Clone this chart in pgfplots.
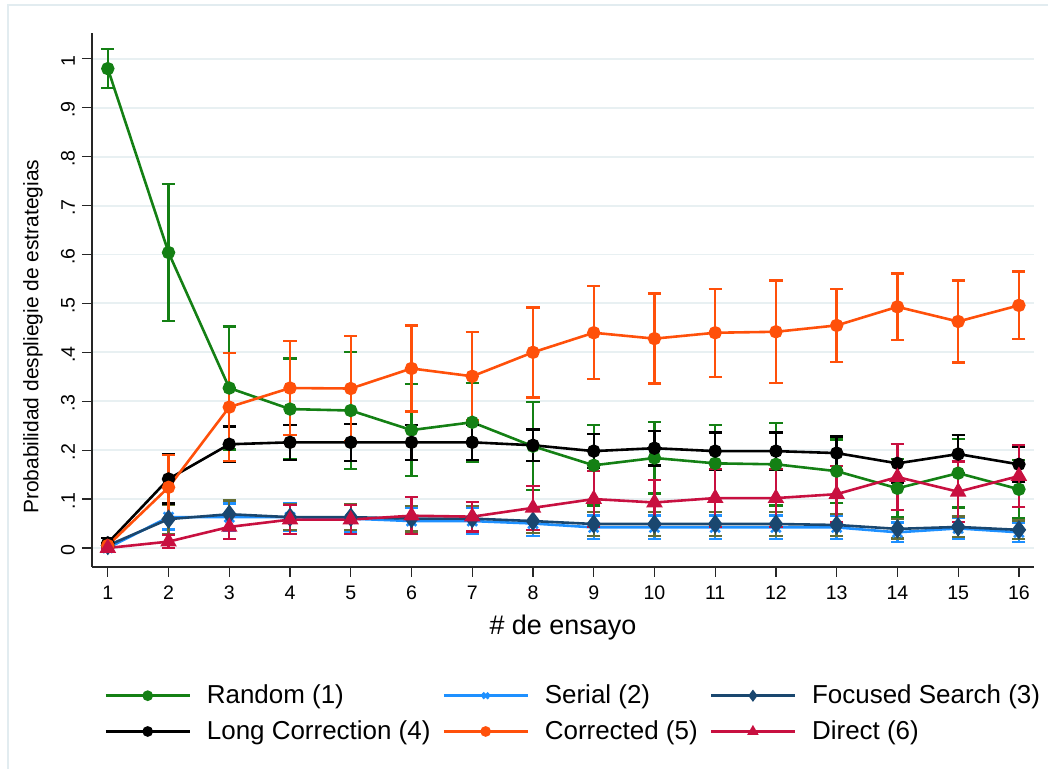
\documentclass[border=0pt]{standalone}
\usepackage{fontspec}
\setmainfont{Liberation Sans}
\usepackage{pgfplots}
\usepackage{pgfplotstable}
\pgfplotsset{compat=1.18}
\definecolor{cRandom}{RGB}{20,128,20}
\definecolor{cSerial}{RGB}{30,144,255}
\definecolor{cFocused}{RGB}{26,71,111}
\definecolor{cFocErr}{RGB}{100,110,55}
\definecolor{cLong}{RGB}{0,0,0}
\definecolor{cCorr}{RGB}{255,80,10}
\definecolor{cDirect}{RGB}{200,16,64}
\definecolor{gridc}{RGB}{232,240,242}
\definecolor{framec}{RGB}{226,236,240}

\pgfplotstableread{
x y e
1 0.980 0.040
2 0.604 0.140
3 0.327 0.126
4 0.284 0.103
5 0.281 0.120
6 0.241 0.094
7 0.257 0.080
8 0.208 0.090
9 0.169 0.082
10 0.184 0.073
11 0.173 0.078
12 0.171 0.084
13 0.157 0.065
14 0.122 0.060
15 0.153 0.070
16 0.120 0.060
}\tRandom

\pgfplotstableread{
x y e
1 0.000 0.005
2 0.063 0.025
3 0.063 0.028
4 0.063 0.028
5 0.060 0.028
6 0.055 0.027
7 0.055 0.027
8 0.050 0.025
9 0.042 0.024
10 0.042 0.024
11 0.042 0.024
12 0.042 0.024
13 0.042 0.024
14 0.032 0.020
15 0.040 0.022
16 0.032 0.020
}\tSerial

\pgfplotstableread{
x y e
1 0.005 0.005
2 0.059 0.030
3 0.069 0.028
4 0.063 0.026
5 0.063 0.026
6 0.060 0.026
7 0.060 0.026
8 0.055 0.025
9 0.049 0.024
10 0.049 0.024
11 0.049 0.024
12 0.049 0.024
13 0.047 0.023
14 0.039 0.020
15 0.043 0.021
16 0.037 0.019
}\tFocused

\pgfplotstableread{
x y e
1 0.010 0.010
2 0.141 0.050
3 0.212 0.036
4 0.216 0.036
5 0.216 0.038
6 0.216 0.036
7 0.216 0.036
8 0.210 0.032
9 0.198 0.035
10 0.204 0.035
11 0.198 0.038
12 0.198 0.038
13 0.194 0.034
14 0.173 0.040
15 0.192 0.039
16 0.171 0.035
}\tLong

\pgfplotstableread{
x y e
1 0.005 0.005
2 0.124 0.066
3 0.288 0.110
4 0.327 0.096
5 0.326 0.107
6 0.367 0.088
7 0.351 0.090
8 0.400 0.092
9 0.440 0.095
10 0.428 0.092
11 0.440 0.090
12 0.442 0.105
13 0.455 0.075
14 0.493 0.068
15 0.463 0.084
16 0.496 0.069
}\tCorr

\pgfplotstableread{
x y e
1 0.000 0.003
2 0.013 0.013
3 0.043 0.025
4 0.058 0.030
5 0.058 0.030
6 0.066 0.038
7 0.064 0.030
8 0.082 0.045
9 0.100 0.057
10 0.093 0.046
11 0.102 0.059
12 0.102 0.059
13 0.110 0.058
14 0.145 0.067
15 0.115 0.062
16 0.147 0.063
}\tDirect

\begin{document}
\begin{tikzpicture}
\begin{axis}[
  name=ax,
  scale only axis,
  width=472pt, height=267.5pt,
  xmin=0.737, xmax=16.25,
  ymin=-0.0388, ymax=1.053,
  axis x line*=bottom, axis y line*=left,
  axis line style={black!85, line width=0.8pt},
  xtick={1,2,3,4,5,6,7,8,9,10,11,12,13,14,15,16},
  ytick={0,0.1,0.2,0.3,0.4,0.5,0.6,0.7,0.8,0.9,1},
  yticklabels={0,.1,.2,.3,.4,.5,.6,.7,.8,.9,1},
  tick align=outside,
  major tick length=5pt,
  tick style={black!85, line width=0.6pt},
  ymajorgrids,
  major grid style={gridc, line width=1pt},
  /pgf/number format/assume math mode=true,
  ticklabel style={font=\fontsize{9.8}{11}\selectfont},
  yticklabel style={rotate=90, anchor=south, xshift=-1pt},
  xticklabel style={yshift=-1pt},
  xlabel={\# de ensayo},
  xlabel style={font=\fontsize{13.5}{16}\selectfont, at={(axis description cs:0.5,-0.127)}, anchor=base},
  ylabel={Probabilidad despliegie de estrategias},
  ylabel style={font=\fontsize{10.5}{12}\selectfont, at={(axis description cs:-0.0625,0.431)}, anchor=center},
  clip=false,
  legend columns=3,
  legend cell align=left,
  legend style={
    at={(axis description cs:0.512,-0.205)}, anchor=north,
    draw=none, fill=none,
    font=\fontsize{13}{15}\selectfont,
    /tikz/every even column/.append style={column sep=4pt},
    row sep=3pt,
  },
  legend image code/.code={%
    \draw[mark repeat=2,mark phase=2,#1,mark size=2pt] plot coordinates {(0pt,0pt) (21pt,0pt) (42pt,0pt)};
    \path (48pt,0pt);},
  every axis plot/.append style={line width=1.3pt},
]
\addplot[cRandom, mark=*, mark size=2.7pt, mark options={solid, fill=cRandom},
  error bars/.cd, y dir=both, y explicit,
  error bar style={line width=1.2pt, cRandom},
  error mark options={rotate=90, mark size=3.3pt, line width=1.2pt, cRandom}]
  table[x=x, y=y, y error=e] {\tRandom};
\addlegendentry{Random (1)}

\addplot[cSerial, mark=x, mark size=3.4pt, mark options={solid},
  error bars/.cd, y dir=both, y explicit,
  error bar style={line width=1.2pt, cSerial},
  error mark options={rotate=90, mark size=3.3pt, line width=1.2pt, cSerial}]
  table[x=x, y=y, y error=e] {\tSerial};
\addlegendentry{Serial (2)}

\addplot[cFocused, mark=diamond*, mark size=3.8pt, mark options={solid, fill=cFocused},
  error bars/.cd, y dir=both, y explicit,
  error bar style={line width=1.2pt, cFocErr},
  error mark options={rotate=90, mark size=3.3pt, line width=1.2pt, cFocErr}]
  table[x=x, y=y, y error=e] {\tFocused};
\addlegendentry{Focused Search (3)}

\addplot[cLong, mark=*, mark size=2.7pt, mark options={solid, fill=cLong},
  error bars/.cd, y dir=both, y explicit,
  error bar style={line width=1.2pt, cLong},
  error mark options={rotate=90, mark size=3.3pt, line width=1.2pt, cLong}]
  table[x=x, y=y, y error=e] {\tLong};
\addlegendentry{Long Correction (4)}

\addplot[cCorr, mark=*, mark size=2.7pt, mark options={solid, fill=cCorr},
  error bars/.cd, y dir=both, y explicit,
  error bar style={line width=1.2pt, cCorr},
  error mark options={rotate=90, mark size=3.3pt, line width=1.2pt, cCorr}]
  table[x=x, y=y, y error=e] {\tCorr};
\addlegendentry{Corrected (5)}

\addplot[cDirect, mark=triangle*, mark size=3.5pt, mark options={solid, fill=cDirect},
  error bars/.cd, y dir=both, y explicit,
  error bar style={line width=1.2pt, cDirect},
  error mark options={rotate=90, mark size=3.3pt, line width=1.2pt, cDirect}]
  table[x=x, y=y, y error=e] {\tDirect};
\addlegendentry{Direct (6)}
\end{axis}
\path[use as bounding box] ([shift={(-46pt,-101pt)}]ax.south west) rectangle ([shift={(479pt,284pt)}]ax.south west);
\draw[framec, line width=1.2pt] ([shift={(-42pt,-101pt)}]ax.south west) -- ([shift={(-42pt,281.5pt)}]ax.south west) -- ([shift={(479pt,281.5pt)}]ax.south west);
\end{tikzpicture}
\end{document}
